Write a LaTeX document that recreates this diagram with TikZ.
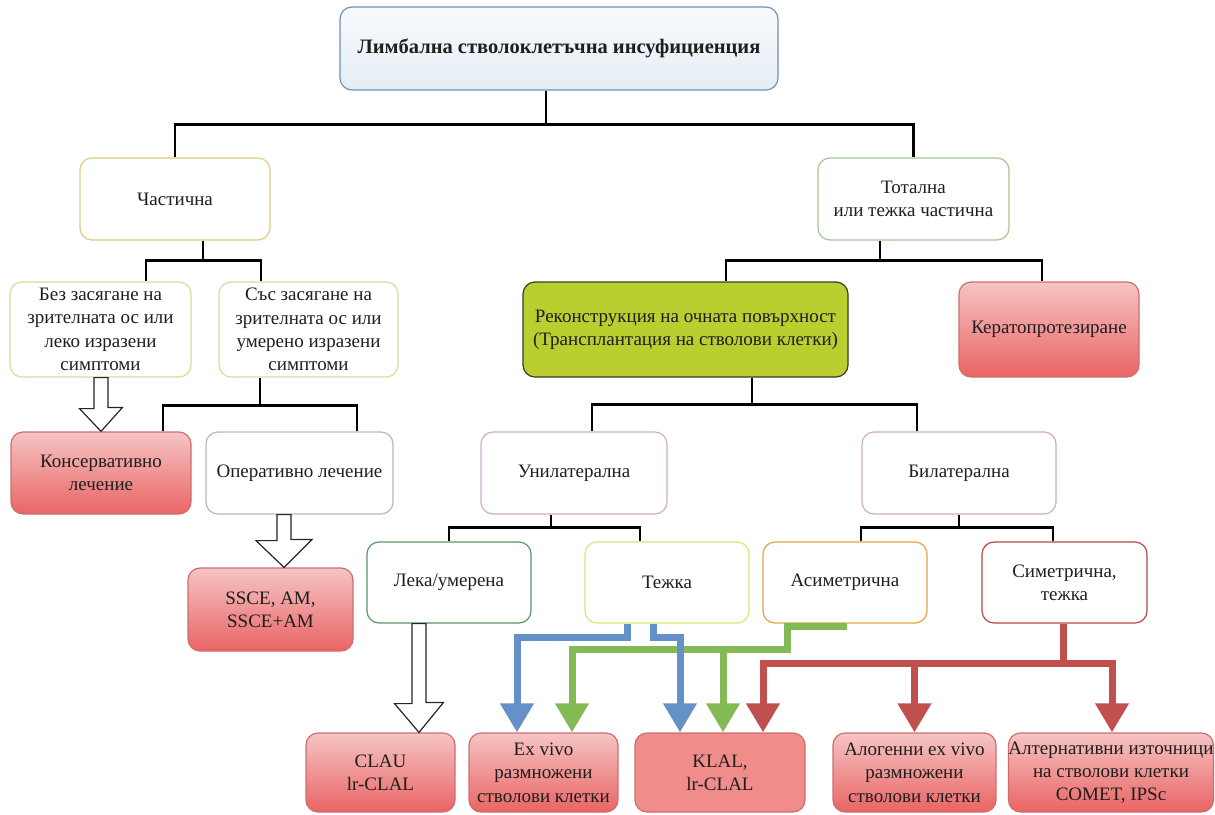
\documentclass[tikz,border=0pt]{standalone}
\usepackage{fontspec}
\setmainfont{Liberation Serif}
\usetikzlibrary{arrows.meta,calc}
\definecolor{txt}{RGB}{30,30,30}
\definecolor{rootb}{RGB}{110,145,185}
\definecolor{roott}{RGB}{248,250,253}
\definecolor{rootbt}{RGB}{230,237,245}
\definecolor{partb}{RGB}{225,205,130}
\definecolor{totb}{RGB}{165,198,145}
\definecolor{sxb}{RGB}{212,222,150}
\definecolor{reconf}{RGB}{186,206,48}
\definecolor{reconb}{RGB}{55,60,35}
\definecolor{redt}{RGB}{246,196,196}
\definecolor{redbt}{RGB}{234,100,100}
\definecolor{redb}{RGB}{205,110,110}
\definecolor{klalf}{RGB}{240,140,138}
\definecolor{operb}{RGB}{190,180,180}
\definecolor{unib}{RGB}{210,170,200}
\definecolor{mildb}{RGB}{90,150,100}
\definecolor{sevb}{RGB}{225,225,120}
\definecolor{asymb}{RGB}{225,165,70}
\definecolor{symb}{RGB}{185,70,70}
\definecolor{ablue}{RGB}{100,145,200}
\definecolor{agreen}{RGB}{132,186,86}
\definecolor{ared}{RGB}{192,80,77}
\tikzset{
  box/.style={draw, line width=1.2pt, rounded corners=12pt, align=center, text=txt,
    inner sep=0pt, font=\fontsize{19}{23.3}\selectfont},
  redbox/.style={box, draw=redb, top color=redt, bottom color=redbt},
  conn/.style={draw=black, line width=2.4pt},
  hollow/.style={draw=black!85, line width=1.2pt, fill=white, line join=miter},
  carrow/.style={line width=7pt, line join=miter, -{Triangle[width=32pt,length=29pt]}},
}
\begin{document}
\begin{tikzpicture}[x=1pt,y=-1pt]
\useasboundingbox (0,0) rectangle (1215,814);
\fill[white] (0,0) rectangle (1215,814);

% nodes
\node[box, draw=rootb, top color=roott, bottom color=rootbt, minimum width=438pt, minimum height=83pt,
  font=\fontsize{20.5}{24}\selectfont\bfseries] (root) at (559,48.5) {Лимбална стволоклетъчна инсуфициенция};
\node[box, draw=partb, minimum width=190pt, minimum height=82pt] (partial) at (175,199) {Частична};
\node[box, draw=totb, minimum width=191pt, minimum height=82pt] (total) at (913.5,199) {Тотална\\или тежка частична};
\node[box, draw=sxb, minimum width=181pt, minimum height=95pt] (nosx) at (100.5,329.5) {Без засягане на\\зрителната ос или\\леко изразени\\симптоми};
\node[box, draw=sxb, minimum width=179pt, minimum height=95pt] (withsx) at (308.5,329.5) {Със засягане на\\зрителната ос или\\умерено изразени\\симптоми};
\node[box, draw=reconb, fill=reconf, minimum width=325pt, minimum height=95pt] (recon) at (685.5,329.5) {Реконструкция на очната повърхност\\(Трансплантация на стволови клетки)};
\node[redbox, minimum width=180pt, minimum height=95pt] (kpro) at (1049,329.5) {Кератопротезиране};
\node[redbox, minimum width=180pt, minimum height=82pt] (conserv) at (101,473) {Консервативно\\лечение};
\node[box, draw=operb, minimum width=187pt, minimum height=82pt] (operat) at (299.5,473) {Оперативно лечение};
\node[box, draw=unib, minimum width=186pt, minimum height=82pt] (uni) at (574,473) {Унилатерална};
\node[box, draw=unib, minimum width=194pt, minimum height=82pt] (bi) at (959,473) {Билатерална};
\node[redbox, minimum width=165pt, minimum height=83pt] (ssce) at (270.5,609.5) {SSCE, AM,\\SSCE+AM};
\node[box, draw=mildb, minimum width=164pt, minimum height=81pt] (mild) at (449,582.5) {Лека/умерена};
\node[box, draw=sevb, minimum width=164pt, minimum height=81pt] (severe) at (667,582.5) {Тежка};
\node[box, draw=asymb, minimum width=164pt, minimum height=81pt] (asym) at (845,582.5) {Асиметрична};
\node[box, draw=symb, minimum width=165pt, minimum height=81pt] (sym) at (1064.5,582.5) {Симетрична,\\тежка};
\node[redbox, minimum width=149pt, minimum height=79pt] (clau) at (380.5,772.5) {CLAU\\lr-CLAL};
\node[redbox, minimum width=149pt, minimum height=79pt] (exvivo) at (543.5,772.5) {Ex vivo\\размножени\\стволови клетки};
\node[box, draw=redb, fill=klalf, minimum width=170pt, minimum height=79pt] (klal) at (720,772.5) {KLAL,\\lr-CLAL};
\node[redbox, minimum width=163pt, minimum height=79pt] (allo) at (914.5,772.5) {Алогенни ex vivo\\размножени\\стволови клетки};
\node[redbox, minimum width=204pt, minimum height=79pt] (alt) at (1111,772.5) {Алтернативни източници\\на стволови клетки\\COMET, IPSc};

% tree connectors
\draw[conn] ([xshift=-13pt]root.south) -- ++(0,34) coordinate (j1);
\draw[conn] (j1) -| (partial.north);
\draw[conn] (j1) -| (total.north);

\draw[conn] ([xshift=28pt]partial.south) -- ++(0,20) coordinate (j2);
\draw[conn] (j2) -| ([xshift=45.5pt]nosx.north);
\draw[conn] (j2) -| ([xshift=-47.5pt]withsx.north);

\draw[conn] ([xshift=-33.5pt]total.south) -- ++(0,20) coordinate (j3);
\draw[conn] (j3) -| ([xshift=40.5pt]recon.north);
\draw[conn] (j3) -| ([xshift=-7pt]kpro.north);

\draw[conn] ([xshift=-48.5pt]withsx.south) -- ++(0,28) coordinate (j4);
\draw[conn] (j4) -| ([xshift=62pt]conserv.north);
\draw[conn] (j4) -| ([xshift=57.5pt]operat.north);

\draw[conn] ([xshift=66.5pt]recon.south) -- ++(0,27) coordinate (j5);
\draw[conn] (j5) -| ([xshift=18pt]uni.north);
\draw[conn] (j5) -| ([xshift=-42pt]bi.north);

\draw[conn] ([xshift=-23pt]uni.south) -- ++(0,13) coordinate (j6);
\draw[conn] (j6) -| (mild.north);
\draw[conn] (j6) -| ([xshift=-27pt]severe.north);

\draw[conn] (bi.south) -- ++(0,13) coordinate (j7);
\draw[conn] (j7) -| ([xshift=16pt]asym.north);
\draw[conn] (j7) -| ([xshift=-11.5pt]sym.north);

% hollow arrows
\draw[hollow] ([xshift=-6.5pt]nosx.south) -- ++(0,31) -- ++(-14.5,0) -- (conserv.north)
  -- ++(21.5,-24) -- ++(-14.5,0) -- ([xshift=7.5pt]nosx.south) -- cycle;
\draw[hollow] ([xshift=-22.5pt]operat.south) -- ++(0,26) -- ++(-21,0) -- ([xshift=13.5pt]ssce.north)
  -- ++(28,-28) -- ++(-21,0) -- ([xshift=-8.5pt]operat.south) -- cycle;
\draw[hollow] ([xshift=-37pt]mild.south) -- ++(0,80) -- ++(-17.5,0) -- ([xshift=38.5pt]clau.north)
  -- ++(24.5,-30) -- ++(-17.5,0) -- ([xshift=-23pt]mild.south) -- cycle;

% coloured arrows
\draw[carrow, draw=agreen] ([xshift=2pt,yshift=-3pt]asym.south) -- ++(-60,0) -- ++(0,23) coordinate (gj)
  -| ([xshift=28.5pt]exvivo.north);
\coordinate (gk) at ([xshift=3pt]klal.north);
\draw[carrow, draw=agreen] (gk |- gj) -- (gk);

\draw[carrow, draw=ablue] ([xshift=-40pt]severe.south) -- ++(0,14) -| ([xshift=-26.5pt]exvivo.north);
\draw[carrow, draw=ablue] ([xshift=-14pt]severe.south) -- ++(0,14) -| ([xshift=-40pt]klal.north);

\draw[carrow, draw=ared] ([xshift=-1.5pt]sym.south) -- ++(0,40) coordinate (rj) -| ([xshift=43pt]klal.north);
\draw[carrow, draw=ared] (rj -| allo.north) -- (allo.north);
\draw[carrow, draw=ared] (rj) -| ([xshift=1pt]alt.north);
\end{tikzpicture}
\end{document}
